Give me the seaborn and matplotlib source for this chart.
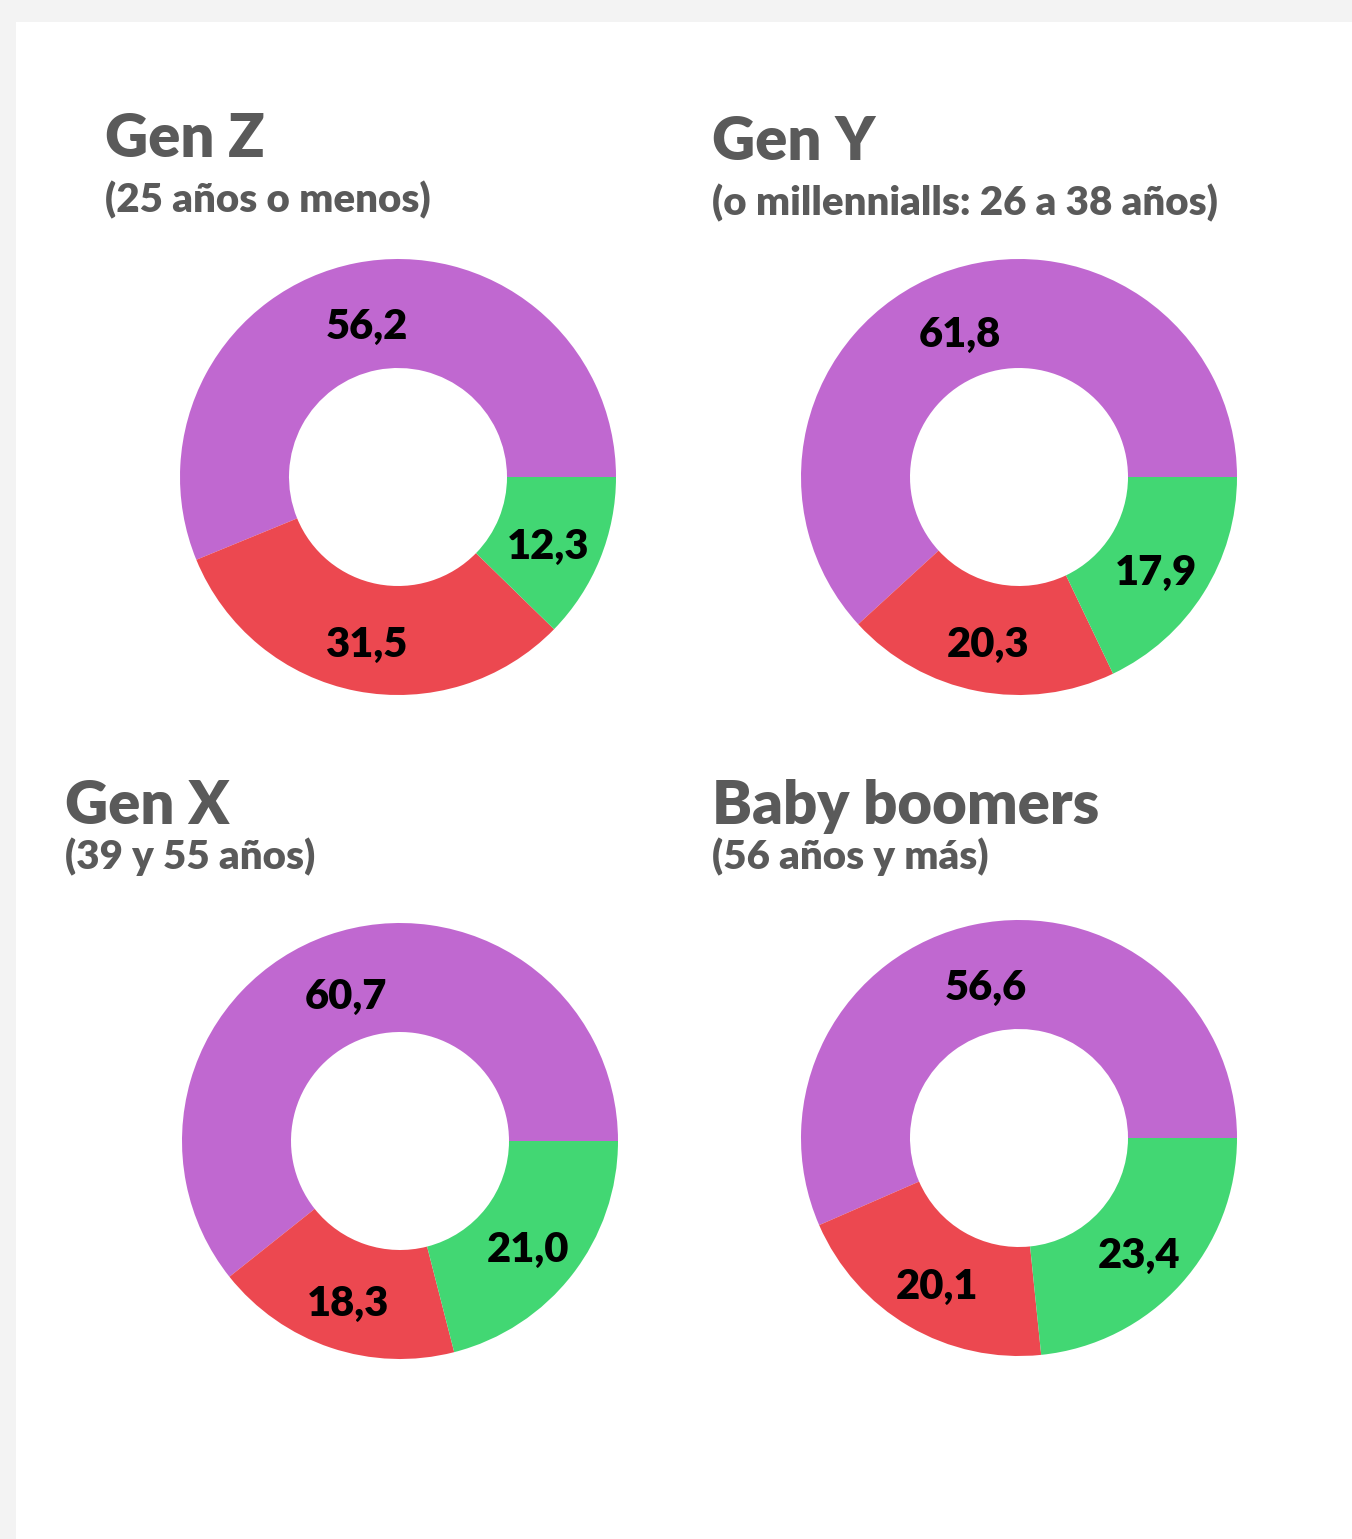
import numpy as np
import seaborn as sns
import matplotlib.pyplot as plt
from matplotlib.patches import Rectangle

# data

generations = ["Gen Z", "Gen Y", "Gen X", "Baby boomers"]
subtitles = ["(25 años o menos)", "(o millennialls: 26 a 38 años)",
             "(39 y 55 años)", "(56 años y más)"]
purple_vals = [56.2, 61.8, 60.7, 56.6]
red_vals = [31.5, 20.3, 18.3, 20.1]
green_vals = [12.3, 17.9, 21.0, 23.4]

colors = ["#C068D0", "#EC4850", "#42D773"]

sns.set_theme(style="white")
plt.rcParams['font.family'] = ['Lato', 'DejaVu Sans']

W, H = 1352, 1539
fig = plt.figure(figsize=(W / 100, H / 100), dpi=100, facecolor="#F3F3F3")
fig.add_artist(Rectangle((16 / W, 0), 1, 1 - 22 / H, transform=fig.transFigure,
                         facecolor="white", edgecolor="none", zorder=-5))

# layout in pixels: donut centre, radius, title position
centers = [(398, 477), (1019, 477), (400, 1141), (1019, 1138)]
title_pos = [(105, 157), (712, 160), (65, 824), (712, 824)]
sub_pos = [(105, 212), (712, 215), (65, 869), (712, 869)]
R = 218


def fmt(v):
    return f"{v:.1f}".replace(".", ",")


for i, gen in enumerate(generations):
    cx, cy = centers[i]
    ax = fig.add_axes([(cx - R) / W, (H - cy - R) / H, 2 * R / W, 2 * R / H])
    ax.set_zorder(1)
    vals = [purple_vals[i], red_vals[i], green_vals[i]]
    wedges, _ = ax.pie(vals, colors=colors, startangle=0, counterclock=True,
                       wedgeprops=dict(width=0.5, edgecolor="none", linewidth=0))
    ax.set_xlim(-1, 1)
    ax.set_ylim(-1, 1)
    ax.set_aspect("equal")
    ax.axis("off")
    for w, v in zip(wedges, vals):
        ang = np.deg2rad((w.theta1 + w.theta2) / 2)
        ax.text(0.745 * np.cos(ang), 0.745 * np.sin(ang) - 0.025, fmt(v), ha="center",
                va="center_baseline", fontsize=30, fontweight="heavy", color="black")

    tx, ty = title_pos[i]
    fig.text(tx / W, 1 - ty / H, gen, fontsize=43, fontweight="heavy", color="#5A5A5A",
             ha="left", va="baseline")
    sx, sy = sub_pos[i]
    fig.text(sx / W, 1 - sy / H, subtitles[i], fontsize=29, fontweight="heavy", color="#5A5A5A",
             ha="left", va="baseline")

fig.savefig("out.png", dpi=100, facecolor=fig.get_facecolor())
